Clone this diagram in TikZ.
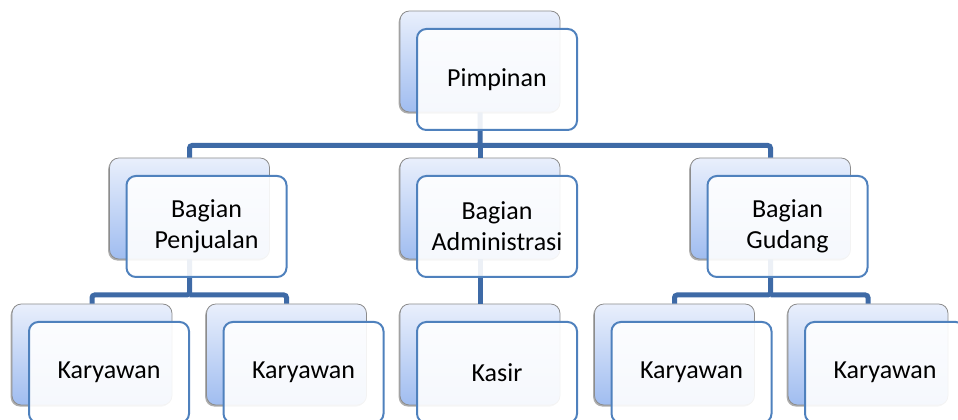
\documentclass[tikz,border=0pt]{standalone}
\usepackage{fontspec}
\setmainfont{Carlito}
\usetikzlibrary{shadows}

\definecolor{linkblue}{RGB}{62,106,166}
\definecolor{frameblue}{RGB}{79,129,189}
\definecolor{shadetop}{RGB}{233,239,252}
\definecolor{shadebottom}{RGB}{160,189,240}

\tikzset{
  backbox/.style={rectangle, rounded corners=7pt, draw=black!45, line width=0.6pt,
    top color=shadetop, bottom color=shadebottom,
    minimum width=120pt, minimum height=75.75pt,
    drop shadow={shadow xshift=-1pt, shadow yshift=-1.2pt, fill=black!70, opacity=0.45}},
  frontbox/.style={rectangle, rounded corners=7pt, draw=frameblue, line width=1.5pt,
    fill=white, fill opacity=0.9, text opacity=1,
    minimum width=120pt, minimum height=75.75pt, align=center,
    font=\fontsize{19.5}{23.25}\selectfont},
  link/.style={draw=linkblue, line width=3.75pt, rounded corners=2pt}
}

\begin{document}
\begin{tikzpicture}[x=0.75pt,y=-0.75pt]
    \useasboundingbox (0,0) rectangle (958,420);

    % Bus lines
    \coordinate (topbus) at (480,145.5);
    \coordinate (salesbus) at (189.5,295);
    \coordinate (storebus) at (770.5,295);

    % Back boxes
    \node[backbox] (pimpinanbg) at (480,61.5) {};
    \node[backbox] (penjualanbg) at (189.5,208.5) {};
    \node[backbox] (adminbg) at (480,208.5) {};
    \node[backbox] (gudangbg) at (770.5,208.5) {};
    \node[backbox] (karyawanAbg) at (92,354.5) {};
    \node[backbox] (karyawanBbg) at (286.5,354.5) {};
    \node[backbox] (kasirbg) at (480,354.5) {};
    \node[backbox] (karyawanCbg) at (674.5,354.5) {};
    \node[backbox] (karyawanDbg) at (868,354.5) {};

    % Connectors
    \draw[link] (pimpinanbg.south) -- (topbus) -| (penjualanbg.north);
    \draw[link] (topbus) -| (gudangbg.north);
    \draw[link] (topbus) -- (adminbg.north);
    \draw[link] (penjualanbg.south) -- (salesbus) -| (karyawanAbg.north);
    \draw[link] (salesbus) -| (karyawanBbg.north);
    \draw[link] (adminbg.south) -- (kasirbg.north);
    \draw[link] (gudangbg.south) -- (storebus) -| (karyawanCbg.north);
    \draw[link] (storebus) -| (karyawanDbg.north);

    % Front boxes
    \node[frontbox] (pimpinan) at (497,79.5) {Pimpinan};
    \node[frontbox] (penjualan) at (206.5,226.5) {Bagian\\Penjualan};
    \node[frontbox] (admin) at (497,226.5) {Bagian\\Administrasi};
    \node[frontbox] (gudang) at (787.5,226.5) {Bagian\\Gudang};
    \node[frontbox] (karyawanA) at (109,372.5) {Karyawan};
    \node[frontbox] (karyawanB) at (303.5,372.5) {Karyawan};
    \node[frontbox] (kasir) at (497,372.5) {Kasir};
    \node[frontbox] (karyawanC) at (691.5,372.5) {Karyawan};
    \node[frontbox] (karyawanD) at (885,372.5) {Karyawan};

\end{tikzpicture}
\end{document}
